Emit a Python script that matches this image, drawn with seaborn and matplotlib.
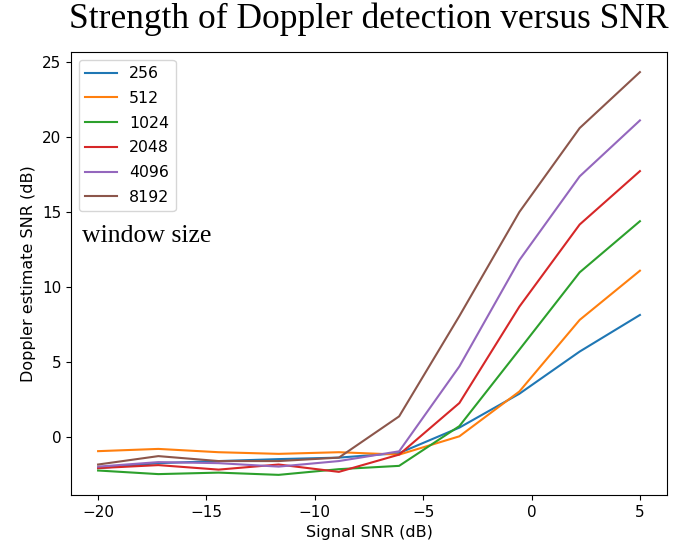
import numpy as np
import pandas as pd
import matplotlib.pyplot as plt
import seaborn as sns

snr = [-20.0, -17.22, -14.44, -11.67, -8.89, -6.11, -3.33, -0.56, 2.22, 5.0]
windows = ["256", "512", "1024", "2048", "4096", "8192"]
est_256 = [-2.1, -1.77, -1.63, -1.5, -1.4, -1.1, 0.6, 2.86, 5.67, 8.11]
est_512 = [-0.97, -0.82, -1.04, -1.15, -1.04, -1.2, 0.02, 3.01, 7.78, 11.06]
est_1024 = [-2.26, -2.5, -2.4, -2.55, -2.17, -1.95, 0.7, 5.8, 10.95, 14.36]
est_2048 = [-2.1, -1.9, -2.2, -1.86, -2.35, -1.2, 2.24, 8.67, 14.14, 17.7]
est_4096 = [-2.0, -1.7, -1.77, -2.0, -1.63, -0.98, 4.68, 11.77, 17.35, 21.08]
est_8192 = [-1.86, -1.3, -1.63, -1.63, -1.4, 1.35, 8.04, 14.98, 20.57, 24.3]

rows = []
for w, vals in zip(windows, [est_256, est_512, est_1024, est_2048, est_4096, est_8192]):
    for x, v in zip(snr, vals):
        rows.append({"snr": x, "est": v, "window": w})
df = pd.DataFrame(rows)

fig = plt.figure(figsize=(6.73, 5.5), dpi=100)
ax = fig.add_axes([0.1055, 0.1, 0.8856, 0.8055])
sns.lineplot(data=df, x="snr", y="est", hue="window", palette="tab10", ax=ax)
ax.legend(loc="upper left", fontsize=11.3, labelspacing=0.62)
ax.tick_params(labelsize=11)
ax.set_xlabel("Signal SNR (dB)", fontsize=11.5)
ax.set_ylabel("Doppler estimate SNR (dB)", fontsize=11.5)
ax.set_title("Strength of Doppler detection versus SNR", family="Liberation Serif", fontsize=25.5, pad=17)
fig.text(0.1218, 0.56, "window size", family="Liberation Serif", fontsize=18.5, va="baseline")
plt.savefig("out.png")
